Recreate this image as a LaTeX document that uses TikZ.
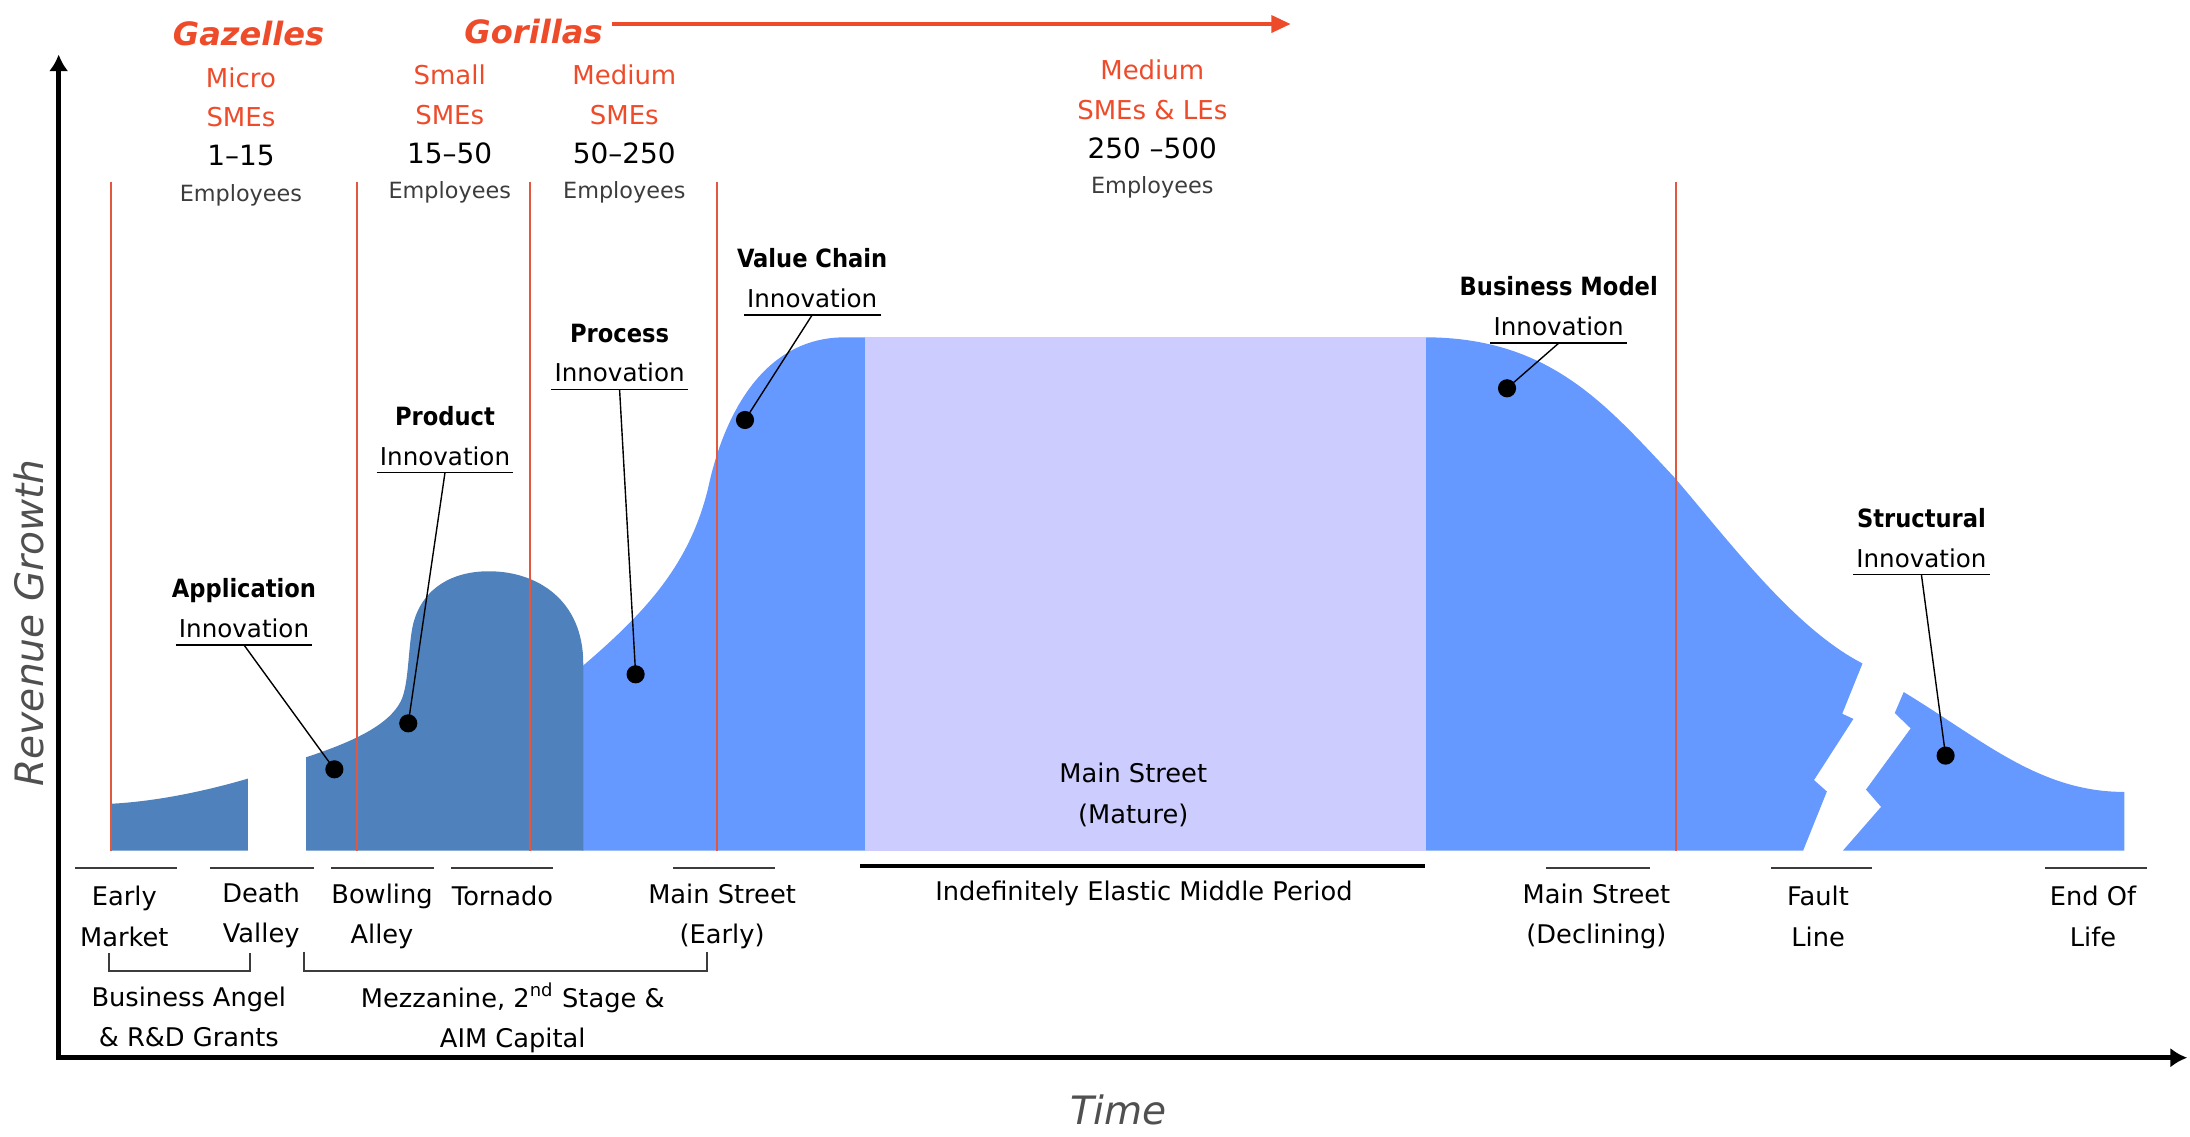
\documentclass[tikz,border=0pt]{standalone}
\usepackage{fontspec}
\setmainfont{DejaVu Sans}
\newfontfamily\condfont{DejaVu Sans Condensed}
\usepackage{tikz}
\usetikzlibrary{arrows.meta,positioning}
\definecolor{lcdark}{HTML}{4F81BD}
\definecolor{lclight}{HTML}{6699FF}
\definecolor{lcmature}{HTML}{CCCCFF}
\definecolor{lcred}{HTML}{EE4B2B}
\definecolor{lcline}{HTML}{E2583E}
\definecolor{lcgray}{HTML}{3C3C3C}
\definecolor{lcaxis}{HTML}{505050}
\tikzset{
  sizeLabel/.style={text=lcred, font=\fontsize{9.3}{11}\selectfont},
  headCount/.style={font=\fontsize{10}{12}\selectfont},
  empLabel/.style={text=lcgray, font=\fontsize{8}{10}\selectfont},
  groupLabel/.style={text=lcred, font=\bfseries\itshape\fontsize{11.5}{13}\selectfont},
  segLabel/.style={align=center, font=\fontsize{9.2}{14.5}\selectfont},
  innovTitle/.style={font=\condfont\bfseries\fontsize{9}{11}\selectfont, text height=6.6pt, text depth=0pt, inner ysep=1pt},
  innovSub/.style={font=\fontsize{8.8}{10}\selectfont, text height=6.5pt, text depth=0pt, inner xsep=1pt, inner ysep=2.5pt},
  innovDot/.style={circle, fill=black, inner sep=0pt, minimum size=6.5pt},
  leaderLine/.style={draw=black, line width=0.5pt},
  stageLine/.style={draw=lcline, line width=0.7pt},
  tickLine/.style={draw=lcgray, line width=0.6pt},
  axisTitle/.style={text=lcaxis, font=\itshape\fontsize{14}{16}\selectfont}
}

\begin{document}
\begin{tikzpicture}[x=0.5pt, y=-0.5pt]
  \useasboundingbox (0,0) rectangle (1568,814);
  % revenue curve
  \fill[lcdark] (78.8,609) -- (78.8,575.5) .. controls (110,574) and (145,567) .. (177.4,557.5) -- (177.4,609) -- cycle;
  \fill[lclight] (417,609) -- (417,477) .. controls (460,440) and (495,405) .. (508,345)
    .. controls (516,310) and (540,241.5) .. (605,241.5) -- (1020,241.5)
    .. controls (1110,241.5) and (1150,290) .. (1199,342) .. controls (1240,390) and (1285,450) .. (1333.5,475)
    -- (1319,511) -- (1327,514.7) -- (1298.8,558.5) -- (1308,566.7) -- (1291,609) -- cycle;
  \fill[lclight] (1319.5,609) -- (1346.8,577.7) -- (1336,565.3) -- (1368,521.5) -- (1356.6,510.5) -- (1363,495.5)
    .. controls (1420,530) and (1460,567) .. (1521,567) -- (1521,609) -- cycle;
  \fill[lcdark] (219.1,609) -- (219.1,542.2) .. controls (250,532) and (278,520) .. (287,502)
    .. controls (293,490) and (292,462) .. (296,446) .. controls (303,420) and (325,409) .. (350,409)
    .. controls (385,409) and (417.6,430) .. (417.6,475) -- (417.6,609) -- cycle;
  \fill[lcmature] (619.3,241.5) rectangle (1021,609);
  \foreach \x in {79.5,255.3,379.3,513.1,1199.7} \draw[stageLine] (\x,130) -- (\x,609);

  % axes
  \coordinate (yTip) at (42,39);
  \coordinate (origin) at (42,757.3);
  \coordinate (xTip) at (1566,757.3);
  \draw[line width=1.6pt, {Latex[length=6pt,width=7pt]}-{Latex[length=6pt,width=7pt]}] (yTip) -- (origin) -- (xTip);
  \node[axisTitle, rotate=90] (revenue) at (20.6,446) {Revenue Growth};
  \node[axisTitle] (time) at (800.8,794.7) {Time};

  % firm sizes
  \node[groupLabel] (gazelles) at (178,23.9) {Gazelles};
  \node[groupLabel] (gorillas) at (382,22.7) {Gorillas};
  \coordinate (gorTip) at (924.2,17.2);
  \draw[lcred, line width=1.6pt, -{Triangle[length=7pt,width=6pt]}] (gorillas.east |- gorTip) -- (gorTip);
  \foreach \nm/\xc/\yc/\sa/\sb/\cnt in {micro/172.5/55.5/Micro/SMEs/1–15, small/322/53.7/Small/SMEs/15–50,
      medium/447/53.7/Medium/SMEs/50–250, large/825/50.1/Medium/{SMEs \& LEs}/{250 –500}}{
    \node[sizeLabel] (\nm Kind) at (\xc,\yc) {\sa};
    \node[sizeLabel] (\nm Sme) at (\xc,\yc+28.5) {\sb};
    \node[headCount] (\nm Count) at (\xc,\yc+56) {\cnt};
    \node[empLabel] (\nm Emp) at (\xc,\yc+84) {Employees};
  }

  % innovation types
  \foreach \nm/\tx/\ty/\dx/\dy/\ttl in {app/174.7/449.9/239.4/550.8/Application, prod/318.6/326.5/292.3/517.9/Product,
      proc/443.6/266.8/455.1/482.8/Process, val/581.5/213.6/533.4/300.7/Value Chain,
      bus/1116/233.8/1079/278/Business Model, struct/1375.7/399.6/1393/541/Structural}{
    \node[innovSub] (\nm Sub) at (\tx,\ty) {Innovation};
    \node[innovTitle, above=3.8pt of \nm Sub] (\nm Title) {\ttl};
    \node[innovDot] (\nm Dot) at (\dx,\dy) {};
    \draw[leaderLine] (\nm Sub.south west) -- (\nm Sub.south east);
    \draw[leaderLine] (\nm Sub.south) -- (\nm Dot.center);
  }

  % market stages
  \foreach \xa/\xb in {54/127, 150/225, 237/311, 323/396, 482/555, 1107/1181, 1268/1340, 1464/1537}
    \draw[tickLine] (\xa,621.5) -- (\xb,621.5);
  \draw[line width=1.2pt] (616,620) -- (1020,620);
  \node[segLabel] (early) at (89,656) {Early\\Market};
  \node[segLabel] (death) at (187,655.5) {Death\\Valley};
  \node[segLabel] (bowling) at (273.5,656) {Bowling\\Alley};
  \node[segLabel] (tornado) at (359.8,641.5) {Tornado};
  \node[segLabel] (msEarly) at (517,656) {Main Street\\(Early)};
  \node[segLabel] (middle) at (819,640) {Indefinitely Elastic Middle Period};
  \node[segLabel] (mature) at (811.4,569) {Main Street\\(Mature)};
  \node[segLabel] (msDecl) at (1143,656) {Main Street\\(Declining)};
  \node[segLabel] (fault) at (1301.7,656) {Fault\\Line};
  \node[segLabel] (endLife) at (1498.5,656) {End Of\\Life};

  % funding
  \draw[lcgray, line width=0.7pt] (77.8,682.6) -- (77.8,695) -- (179,695) -- (179,682.6);
  \draw[lcgray, line width=0.7pt] (217.4,681.4) -- (217.4,695) -- (505.9,695) -- (505.9,681.4);
  \node[segLabel] (angel) at (135.2,728) {Business Angel\\\& R\&D Grants};
  \node[segLabel] (mezz) at (367.1,729) {Mezzanine, 2\textsuperscript{nd} Stage \&\\AIM Capital};
\end{tikzpicture}
\end{document}
